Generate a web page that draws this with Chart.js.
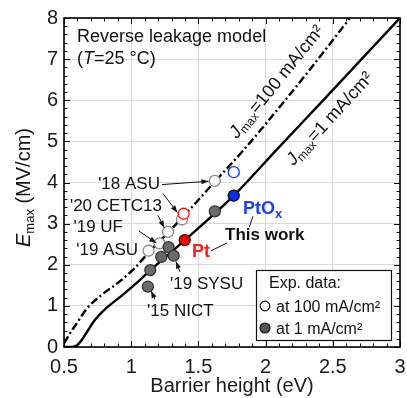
<!DOCTYPE html>
<html>
<head>
<meta charset="utf-8">
<script src="https://cdn.jsdelivr.net/npm/chart.js@4/dist/chart.umd.min.js"></script>
<style>
  html, body { margin: 0; padding: 0; background: #fff; }
</style>
</head>
<body>
<canvas id="chart" width="407" height="398"></canvas>
<script>
const FAMILY = "'Liberation Sans', Arial, Helvetica, sans-serif";

// model curves: barrier height (eV) vs Emax (MV/cm)
const curve1x = [0.5, 0.56, 0.6, 0.632, 0.681, 0.731, 0.806, 0.93, 1.03, 1.14, 1.4, 1.763, 2.083, 2.4, 2.7, 3.0];
const curve1y = [0, 0, 0.05, 0.17, 0.42, 0.66, 0.92, 1.25, 1.53, 1.86, 2.6, 3.68, 4.8, 5.9, 6.95, 8.0];
const curve100x = [0.5, 0.55, 0.6, 0.669, 0.781, 0.905, 1.03, 1.13, 1.274, 1.39, 1.622, 1.834, 2.083, 2.33, 2.628];
const curve100y = [0.09, 0.36, 0.6, 0.93, 1.27, 1.57, 1.93, 2.3, 2.78, 3.18, 4.02, 4.78, 5.75, 6.75, 8.0];

// experimental data from literature
const litOpenX = [1.129, 1.211, 1.274, 1.378, 1.622];
const litOpenY = [2.34, 2.52, 2.80, 3.10, 4.04];
const litFilledX = [1.124, 1.142, 1.224, 1.278, 1.316, 1.622];
const litFilledY = [1.47, 1.87, 2.19, 2.43, 2.22, 3.30];

// this work
const ptX = [1.398], ptFilledY = [2.60], ptOpenX = [1.39], ptOpenY = [3.24];
const ptoxX = [1.763], ptoxFilledY = [3.68], ptoxOpenY = [4.25];

const xTicks = [0.5, 1, 1.5, 2, 2.5, 3];
const yTicks = [0, 1, 2, 3, 4, 5, 6, 7, 8];

// annotation labels [text, x, y(baseline), align]
const refLabels = [
  ["'18 ASU", 1.214, 3.83, 'right'],
  ["'20 CETC13", 1.229, 3.30, 'right'],
  ["'19 UF", 0.939, 2.80, 'right'],
  ["'19 ASU", 1.051, 2.24, 'right'],
  ["'19 SYSU", 1.289, 1.40, 'left'],
  ["'15 NICT", 1.118, 0.75, 'left'],
];
// arrows [x0, y0, x1, y1, head]
const arrows = [
  [1.229, 3.95, 1.575, 4.03, true],
  [1.237, 3.73, 1.343, 3.27, true],
  [1.199, 3.20, 1.246, 2.90, true],
  [1.058, 2.82, 1.187, 2.53, true],
  [1.363, 1.83, 1.333, 2.08, true],
  [1.177, 1.16, 1.148, 1.36, true],
  [1.594, 2.34, 1.713, 2.53, false],
  [1.906, 3.18, 1.879, 2.92, false],
];

const pts = (xs, ys) => xs.map((x, i) => ({ x: x, y: ys[i] }));
const f = (size, style) => `${style || ''} ${size}px ${FAMILY}`;

const drawRich = (ctx, parts, x, y, align) => {
  let w = 0;
  parts.forEach(p => { ctx.font = p.font; p.w = ctx.measureText(p.t).width; w += p.w; });
  let cx = align === 'center' ? x - w / 2 : align === 'right' ? x - w : x;
  parts.forEach(p => {
    ctx.font = p.font;
    ctx.fillStyle = p.color || '#111';
    ctx.fillText(p.t, cx, y + (p.dy || 0));
    cx += p.w;
  });
};

const arrow = (ctx, x0, y0, x1, y1, head) => {
  ctx.beginPath();
  ctx.moveTo(x0, y0);
  ctx.lineTo(x1, y1);
  ctx.stroke();
  if (!head) return;
  const a = Math.atan2(y1 - y0, x1 - x0);
  const L = 7, W = 2.6;
  ctx.beginPath();
  ctx.moveTo(x1, y1);
  ctx.lineTo(x1 - L * Math.cos(a) + W * Math.sin(a), y1 - L * Math.sin(a) - W * Math.cos(a));
  ctx.lineTo(x1 - L * Math.cos(a) - W * Math.sin(a), y1 - L * Math.sin(a) + W * Math.cos(a));
  ctx.closePath();
  ctx.fill();
};

const decor = {
  id: 'decor',
  afterDraw(chart) {
    const { ctx, chartArea: a, scales: { x, y } } = chart;
    ctx.save();

    // frame + inward ticks on all sides
    ctx.strokeStyle = '#000';
    ctx.lineWidth = 1;
    for (let i = 5; i <= 30; i++) {
      const px = Math.round(x.getPixelForValue(i / 10)) + 0.5;
      const len = i % 5 === 0 ? 6 : 3.5;
      ctx.beginPath();
      ctx.moveTo(px, a.bottom); ctx.lineTo(px, a.bottom - len);
      ctx.moveTo(px, a.top); ctx.lineTo(px, a.top + len);
      ctx.stroke();
    }
    for (let i = 0; i <= 40; i++) {
      const py = Math.round(y.getPixelForValue(i / 5)) + 0.5;
      const len = i % 5 === 0 ? 6 : 3.5;
      ctx.beginPath();
      ctx.moveTo(a.left, py); ctx.lineTo(a.left + len, py);
      ctx.moveTo(a.right, py); ctx.lineTo(a.right - len, py);
      ctx.stroke();
    }
    ctx.lineWidth = 1.6;
    ctx.strokeRect(a.left, a.top, a.right - a.left, a.bottom - a.top);

    // y-axis title
    ctx.save();
    ctx.translate(24, (a.top + a.bottom) / 2 + 5);
    ctx.rotate(-Math.PI / 2);
    ctx.textBaseline = 'middle';
    drawRich(ctx, [
      { t: 'E', font: f(20, 'italic') },
      { t: 'max', font: f(13), dy: 6 },
      { t: ' (MV/cm)', font: f(20) },
    ], 0, 0, 'center');
    ctx.restore();

    // model title
    ctx.textBaseline = 'alphabetic';
    drawRich(ctx, [{ t: 'Reverse leakage model', font: f(18) }],
      x.getPixelForValue(0.597), y.getPixelForValue(7.42), 'left');
    drawRich(ctx, [
      { t: '(', font: f(18) },
      { t: 'T', font: f(18, 'italic') },
      { t: '=25 \u00B0C)', font: f(18) },
    ], x.getPixelForValue(0.597), y.getPixelForValue(6.87), 'left');

    // literature labels and arrows
    refLabels.forEach(([t, vx, vy, al]) => {
      drawRich(ctx, [{ t: t, font: f(17) }], x.getPixelForValue(vx), y.getPixelForValue(vy), al);
    });
    ctx.strokeStyle = '#111';
    ctx.fillStyle = '#111';
    ctx.lineWidth = 1;
    arrows.forEach(([x0, y0, x1, y1, h]) => {
      arrow(ctx, x.getPixelForValue(x0), y.getPixelForValue(y0), x.getPixelForValue(x1), y.getPixelForValue(y1), h);
    });

    // this work
    drawRich(ctx, [{ t: 'Pt', font: f(18, 'bold'), color: '#ff1a1a' }],
      x.getPixelForValue(1.452), y.getPixelForValue(2.19), 'left');
    drawRich(ctx, [
      { t: 'PtO', font: f(18, 'bold'), color: '#1a3cff' },
      { t: 'x', font: f(13, 'bold'), color: '#1a3cff', dy: 4 },
    ], x.getPixelForValue(1.832), y.getPixelForValue(3.23), 'left');
    drawRich(ctx, [{ t: 'This work', font: f(17, 'bold') }],
      x.getPixelForValue(1.698), y.getPixelForValue(2.60), 'left');

    // curve labels
    ctx.textBaseline = 'middle';
    ctx.save();
    ctx.translate(277, 82);
    ctx.rotate(-51 * Math.PI / 180);
    drawRich(ctx, [
      { t: 'J', font: f(18, 'italic') },
      { t: 'max', font: f(12), dy: 5 },
      { t: '=100 mA/cm\u00B2', font: f(18) },
    ], 0, 0, 'center');
    ctx.restore();
    ctx.save();
    ctx.translate(330, 119);
    ctx.rotate(-47.5 * Math.PI / 180);
    drawRich(ctx, [
      { t: 'J', font: f(18, 'italic') },
      { t: 'max', font: f(12), dy: 5 },
      { t: '=1 mA/cm\u00B2', font: f(18) },
    ], 0, 0, 'center');
    ctx.restore();

    // legend box
    const bx = a.right - 144, by = a.bottom - 77, bw = 135, bh = 70;
    ctx.fillStyle = '#fff';
    ctx.fillRect(bx, by, bw, bh);
    ctx.strokeStyle = '#111';
    ctx.lineWidth = 1.2;
    ctx.strokeRect(bx + 0.5, by + 0.5, bw, bh);
    ctx.textBaseline = 'alphabetic';
    drawRich(ctx, [{ t: 'Exp. data:', font: f(16) }], bx + 13, by + 18, 'left');
    ctx.beginPath();
    ctx.arc(bx + 9, by + 36, 4.8, 0, Math.PI * 2);
    ctx.fillStyle = '#fff'; ctx.fill();
    ctx.strokeStyle = '#111'; ctx.lineWidth = 1.2; ctx.stroke();
    drawRich(ctx, [{ t: 'at 100 mA/cm\u00B2', font: f(16) }], bx + 20, by + 42, 'left');
    ctx.beginPath();
    ctx.arc(bx + 9, by + 58, 5, 0, Math.PI * 2);
    ctx.fillStyle = '#555'; ctx.fill();
    ctx.strokeStyle = '#111'; ctx.stroke();
    drawRich(ctx, [{ t: 'at 1 mA/cm\u00B2', font: f(16) }], bx + 20, by + 64, 'left');

    ctx.restore();
  },
};

const scatterSet = (data, bg, border, order, r) => ({
  data: data,
  showLine: false,
  pointRadius: r || 5.5,
  pointBackgroundColor: bg,
  pointBorderColor: border,
  pointBorderWidth: 1.3,
  order: order,
});

new Chart(document.getElementById('chart'), {
  type: 'scatter',
  data: {
    datasets: [
      {
        data: pts(curve1x, curve1y),
        showLine: true, pointRadius: 0,
        borderColor: '#000', borderWidth: 2.4,
        cubicInterpolationMode: 'monotone',
        order: 10,
      },
      {
        data: pts(curve100x, curve100y),
        showLine: true, pointRadius: 0,
        borderColor: '#000', borderWidth: 2.4,
        borderDash: [8, 3, 2, 3],
        cubicInterpolationMode: 'monotone',
        order: 9,
      },
      scatterSet(pts(litOpenX, litOpenY), '#fafafa', '#8a8a8a', 4),
      scatterSet(pts(litFilledX, litFilledY), '#6a6a6a', '#333', 3),
      scatterSet(pts(ptOpenX, ptOpenY), '#fff', '#ff1010', 2),
      scatterSet(pts(ptoxX, ptoxOpenY), '#fff', '#1030ff', 2),
      scatterSet(pts(ptX, ptFilledY), '#ff0000', '#400', 1),
      scatterSet(pts(ptoxX, ptoxFilledY), '#0a2cf0', '#001', 1),
    ],
  },
  options: {
    responsive: false,
    animation: false,
    layout: { padding: { left: 0, right: 0, top: 15, bottom: 0 } },
    plugins: { legend: { display: false }, tooltip: { enabled: false } },
    scales: {
      x: {
        type: 'linear', min: 0.5, max: 3,
        afterFit: (s) => { s.height = 51; s.paddingRight = 7; },
        afterBuildTicks: (s) => { s.ticks = xTicks.map(v => ({ value: v })); },
        ticks: {
          padding: 8, color: '#1a1a1a', font: { family: FAMILY, size: 20 },
          callback: (v) => String(v),
        },
        grid: { color: '#dadada', lineWidth: 1, drawTicks: false },
        border: { display: false },
        title: {
          display: true, text: 'Barrier height (eV)', color: '#1a1a1a',
          font: { family: FAMILY, size: 20 }, padding: { top: 0, bottom: 0 },
        },
      },
      y: {
        type: 'linear', min: 0, max: 8,
        afterFit: (s) => { s.width = 64; },
        afterBuildTicks: (s) => { s.ticks = yTicks.map(v => ({ value: v })); },
        ticks: {
          padding: 6, color: '#1a1a1a', font: { family: FAMILY, size: 20 },
          callback: (v) => String(v),
        },
        grid: { color: '#dadada', lineWidth: 1, drawTicks: false },
        border: { display: false },
      },
    },
  },
  plugins: [decor],
});
</script>
</body>
</html>
